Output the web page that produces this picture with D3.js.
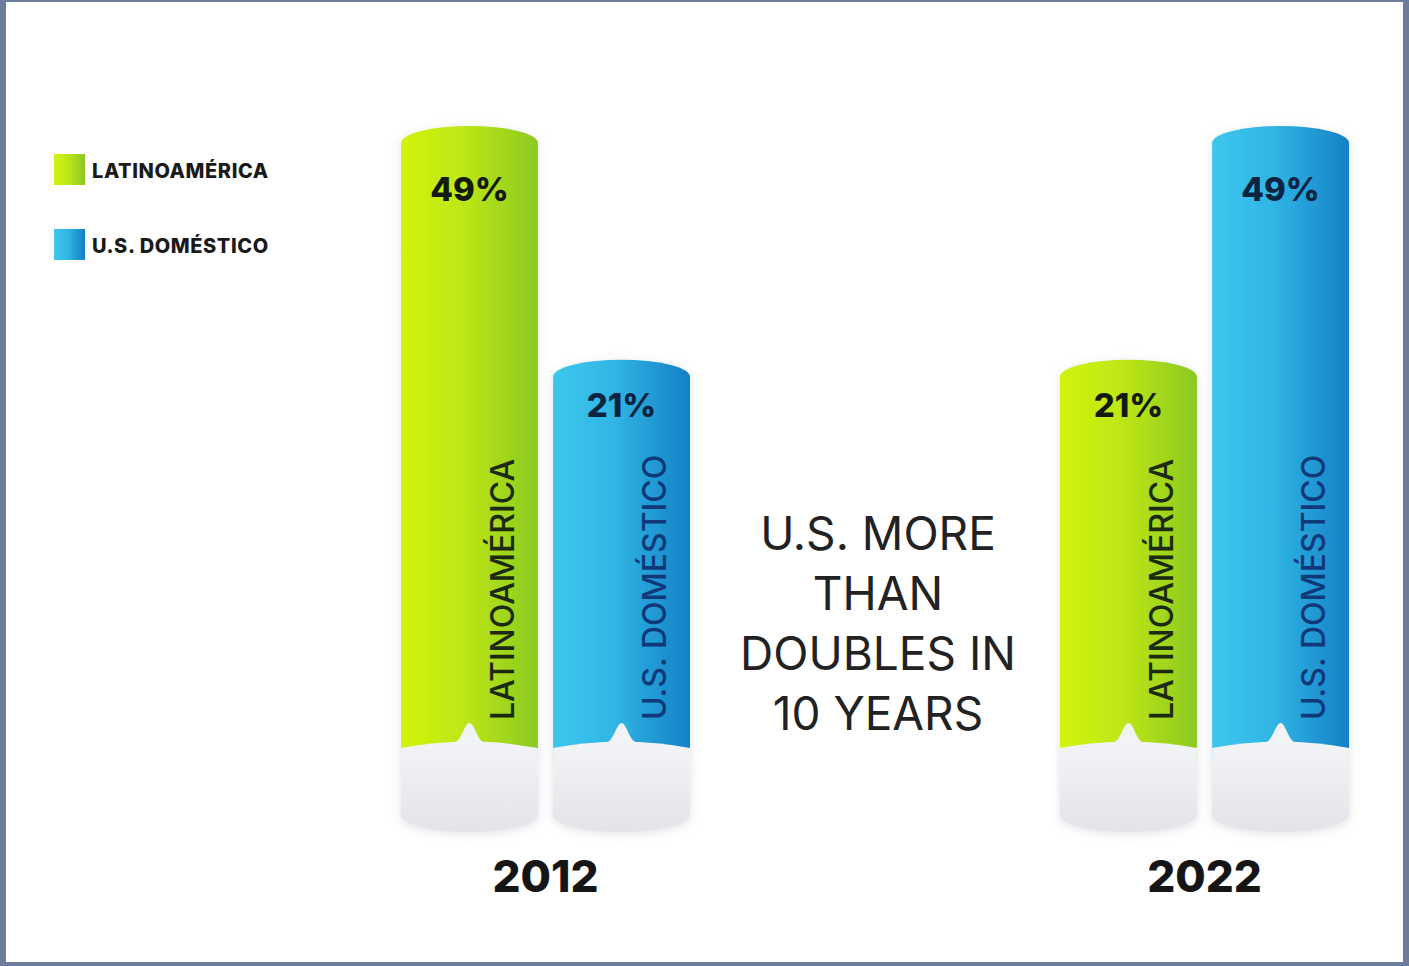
<!DOCTYPE html>
<html>
<head>
<meta charset="utf-8">
<script src="https://cdn.jsdelivr.net/npm/d3@7"></script>
<style>
  html, body { margin: 0; padding: 0; background: #6c7c9a; }
  svg { display: block; }
</style>
</head>
<body>
<svg id="chart" width="1409" height="966"></svg>
<script>
// ---- data ----
const years = ["2012", "2022"];
const seriesNames = ["LATINOAMÉRICA", "U.S. DOMÉSTICO"];
const values2012 = [49, 21];
const values2022 = [21, 49];
const headlineLines = ["U.S. MORE", "THAN", "DOUBLES IN", "10 YEARS"];

const rows = [];
years.forEach((yr, i) => {
  const vals = i === 0 ? values2012 : values2022;
  seriesNames.forEach((s, j) => rows.push({ year: yr, series: s, value: vals[j], idx: j }));
});

const svg = d3.select("#chart");
const W = 1409, H = 966;
const FONT = "Inter, 'Noto Sans', sans-serif";

// frame
svg.append("rect").attr("width", W).attr("height", H).attr("fill", "#6c7c9a");
svg.append("rect").attr("x", 6).attr("y", 2).attr("width", 1397).attr("height", 960).attr("fill", "#ffffff");

const defs = svg.append("defs");
const grads = [
  { id: "gGreen", stops: [["0%", "#d3f30c"], ["45%", "#bde716"], ["100%", "#8cc922"]] },
  { id: "gBlue", stops: [["0%", "#3dc7ee"], ["45%", "#30b5e4"], ["100%", "#1580c6"]] }
];
grads.forEach(g => {
  const lg = defs.append("linearGradient").attr("id", g.id).attr("x1", "0").attr("x2", "1").attr("y1", "0").attr("y2", "0");
  g.stops.forEach(s => lg.append("stop").attr("offset", s[0]).attr("stop-color", s[1]));
});
const gg = defs.append("linearGradient").attr("id", "gGrey").attr("x1", "0").attr("x2", "0").attr("y1", "0").attr("y2", "1");
gg.append("stop").attr("offset", "0%").attr("stop-color", "#f3f4f7");
gg.append("stop").attr("offset", "100%").attr("stop-color", "#e3e4e9");
const f = defs.append("filter").attr("id", "shadow").attr("x", "-20%").attr("y", "-10%").attr("width", "140%").attr("height", "120%");
f.append("feDropShadow").attr("dx", 0).attr("dy", 2).attr("stdDeviation", 5)
  .attr("flood-color", "#9aa0a8").attr("flood-opacity", 0.3);

const fills = ["url(#gGreen)", "url(#gBlue)"];
const pctColors = ["#141a0c", "#0b2442"];
const labelColors = ["#1c2a12", "#10397a"];

// ---- scales ----
const xYear = d3.scalePoint().domain(years).range([545.5, 1204.5]);
const xSeries = d3.scaleBand().domain(seriesNames).range([-144.5, 144.5]).paddingInner(0.1);
const y = d3.scaleLinear().domain([0, 49]).range([535, 126]);
const allValues = values2012.concat(values2022);
const yLabel = d3.scaleLinear().domain(d3.extent(allValues)).range([417, 201]);

const capH = 17;
const colorBottom = 760;
const greyTop = 748;
const greyBottom = 815;

const g = svg.append("g");
const bars = g.selectAll("g.bar").data(rows).join("g").attr("class", "bar").attr("filter", "url(#shadow)");

bars.each(function (d) {
  const sel = d3.select(this);
  const bw = xSeries.bandwidth();
  const x0 = xYear(d.year) + xSeries(d.series);
  const x1 = x0 + bw;
  const cx = x0 + bw / 2;
  const top = y(d.value);
  const side = top + capH;
  sel.append("path")
    .attr("d", `M${x0},${side} A${bw / 2},${capH} 0 0 1 ${x1},${side} L${x1},${colorBottom} L${x0},${colorBottom} Z`)
    .attr("fill", fills[d.idx]);
  sel.append("path")
    .attr("d", `M${x0},${greyTop} Q${cx},${greyTop - 13} ${x1},${greyTop} L${x1},${greyBottom} A${bw / 2},${capH} 0 0 1 ${x0},${greyBottom} Z`)
    .attr("fill", "url(#gGrey)");
  sel.append("path")
    .attr("d", `M${cx - 16},${greyTop - 5} C${cx - 8},${greyTop - 6} ${cx - 5},${greyTop - 25} ${cx},${greyTop - 25} C${cx + 5},${greyTop - 25} ${cx + 8},${greyTop - 6} ${cx + 16},${greyTop - 5} Z`)
    .attr("fill", "#f2f3f6");
});

// percent labels
g.selectAll("text.pct").data(rows).join("text").attr("class", "pct")
  .attr("x", d => xYear(d.year) + xSeries(d.series) + xSeries.bandwidth() / 2)
  .attr("y", d => yLabel(d.value))
  .attr("text-anchor", "middle")
  .attr("font-family", FONT).attr("font-weight", 800).attr("font-size", 33)
  .attr("fill", d => pctColors[d.idx])
  .text(d => d.value + "%");

// rotated series labels
g.selectAll("text.ser").data(rows).join("text").attr("class", "ser")
  .attr("transform", d => `translate(${xYear(d.year) + xSeries(d.series) + xSeries.bandwidth() - 24},720) rotate(-90)`)
  .attr("text-anchor", "start")
  .attr("font-family", FONT).attr("font-weight", 500).attr("font-size", 32)
  .attr("fill", d => labelColors[d.idx])
  .text(d => d.series);

// year labels
g.selectAll("text.year").data(years).join("text").attr("class", "year")
  .attr("x", d => xYear(d)).attr("y", 892)
  .attr("text-anchor", "middle")
  .attr("font-family", FONT).attr("font-weight", 800).attr("font-size", 44)
  .attr("fill", "#151515")
  .text(d => d);

// headline
svg.append("g").selectAll("text").data(headlineLines).join("text")
  .attr("x", 878).attr("y", (d, i) => 550 + i * 60)
  .attr("text-anchor", "middle")
  .attr("font-family", FONT).attr("font-weight", 400).attr("font-size", 46)
  .attr("fill", "#222222")
  .text(d => d);

// legend
const leg = svg.append("g").selectAll("g").data(seriesNames).join("g")
  .attr("transform", (d, i) => `translate(54,${154 + i * 75})`);
leg.append("rect").attr("width", 31).attr("height", 31).attr("fill", (d, i) => fills[i]);
leg.append("text").attr("x", 38).attr("y", 24)
  .attr("font-family", FONT).attr("font-weight", 800).attr("font-size", 20)
  .attr("fill", "#1a1a1a").attr("letter-spacing", 0.6)
  .text(d => d);
</script>
</body>
</html>
